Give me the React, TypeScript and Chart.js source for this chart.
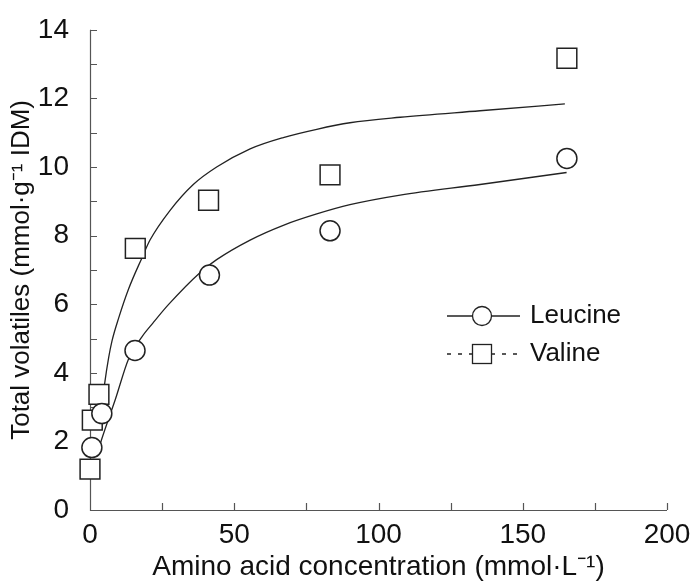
import React, { useEffect, useRef } from 'react';
import { Chart, registerables } from 'chart.js';

Chart.register(...registerables);

const leucineX = [0.65, 4.1, 15.6, 41.4, 83.2, 165.3];
const leucineY = [1.82, 2.81, 4.65, 6.85, 8.14, 10.25];
const valineX = [0, 0.8, 3.1, 15.7, 41.1, 83.2, 165.3];
const valineY = [1.19, 2.62, 3.37, 7.63, 9.03, 9.77, 13.17];

// Fitted curves
const leucineFitX = [2.6, 4.16, 8.77, 13.4, 18, 21.8, 27.1, 38.1, 43.9, 55.5, 67, 78.6, 90.1, 107.5, 135.2, 165.2];
const leucineFitY = [1.65, 2.09, 3.22, 4.41, 5.05, 5.45, 5.98, 6.92, 7.3, 7.87, 8.3, 8.63, 8.9, 9.18, 9.49, 9.84];
const valineFitX = [1.8, 4.16, 5.1, 6.48, 7.63, 9.95, 13.4, 18, 20.8, 27.7, 35.8, 43.9, 55.5, 67, 78.6, 90.1, 107.5, 135.2, 164.6];
const valineFitY = [2.35, 3.05, 3.7, 4.45, 4.93, 5.6, 6.45, 7.35, 7.87, 8.73, 9.49, 10.0, 10.53, 10.86, 11.1, 11.29, 11.45, 11.64, 11.84];

const xMajorTicks = [0, 50, 100, 150, 200];
const yMajorTicks = [0, 2, 4, 6, 8, 10, 12, 14];
const seriesNames = ['Leucine', 'Valine'];

const FONT = '"Liberation Sans", Arial, Helvetica, sans-serif';
const INK = '#222';

const zip = (xs: number[], ys: number[]) => xs.map((x, i) => ({ x, y: ys[i] }));

const axesPlugin = {
  id: 'inwardAxes',
  beforeDatasetsDraw(chart: any) {
    const { ctx, chartArea, scales } = chart;
    const { left, right, top, bottom } = chartArea;
    const xs = scales.x;
    const ys = scales.y;
    ctx.save();
    ctx.strokeStyle = '#555';
    ctx.lineWidth = 1.2;
    ctx.beginPath();
    ctx.moveTo(left + 0.5, top);
    ctx.lineTo(left + 0.5, bottom + 0.5);
    ctx.lineTo(right, bottom + 0.5);
    ys.ticks.forEach((t: any) => {
      const py = Math.round(ys.getPixelForValue(t.value)) + 0.5;
      ctx.moveTo(left, py);
      ctx.lineTo(left + 7, py);
    });
    xs.ticks.forEach((t: any) => {
      const px = Math.round(xs.getPixelForValue(t.value)) + 0.5;
      ctx.moveTo(px, bottom);
      ctx.lineTo(px, bottom - 7);
    });
    ctx.stroke();
    ctx.restore();
  },
};

const legendPlugin = {
  id: 'customLegend',
  afterDraw(chart: any) {
    const { ctx } = chart;
    ctx.save();
    const x0 = 447;
    const x1 = 520;
    const cx = 482;
    const rows = [316, 354];
    ctx.strokeStyle = INK;
    ctx.lineWidth = 1.3;
    // Leucine: solid line + circle
    ctx.beginPath();
    ctx.moveTo(x0, rows[0]);
    ctx.lineTo(x1, rows[0]);
    ctx.stroke();
    ctx.beginPath();
    ctx.fillStyle = '#fff';
    ctx.arc(cx, rows[0], 9.5, 0, Math.PI * 2);
    ctx.fill();
    ctx.stroke();
    // Valine: dashed line + square
    ctx.setLineDash([4, 7]);
    ctx.beginPath();
    ctx.moveTo(x0, rows[1]);
    ctx.lineTo(x1, rows[1]);
    ctx.stroke();
    ctx.setLineDash([]);
    ctx.fillStyle = '#fff';
    ctx.fillRect(cx - 9.5, rows[1] - 9.5, 19, 19);
    ctx.strokeRect(cx - 9.5, rows[1] - 9.5, 19, 19);
    ctx.fillStyle = '#111';
    ctx.font = `26px ${FONT}`;
    ctx.textBaseline = 'middle';
    ctx.textAlign = 'left';
    ctx.fillText(seriesNames[0], 530, rows[0]);
    ctx.fillText(seriesNames[1], 530, rows[1]);
    ctx.restore();
  },
};

export default function App() {
  const ref = useRef<HTMLCanvasElement | null>(null);
  useEffect(() => {
    if (!ref.current) return;
    const chart = new Chart(ref.current, {
      type: 'scatter',
      data: {
        datasets: [
          {
            type: 'line',
            label: 'Leucine fit',
            data: zip(leucineFitX, leucineFitY),
            borderColor: INK,
            borderWidth: 1.3,
            pointRadius: 0,
            cubicInterpolationMode: 'monotone',
            fill: false,
            order: 3,
          } as any,
          {
            type: 'line',
            label: 'Valine fit',
            data: zip(valineFitX, valineFitY),
            borderColor: INK,
            borderWidth: 1.3,
            pointRadius: 0,
            cubicInterpolationMode: 'monotone',
            fill: false,
            order: 3,
          } as any,
          {
            label: seriesNames[1],
            data: zip(valineX, valineY),
            pointStyle: 'rect',
            pointRadius: 14,
            borderColor: INK,
            borderWidth: 1.5,
            backgroundColor: '#fff',
            order: 2,
          },
          {
            label: seriesNames[0],
            data: zip(leucineX, leucineY),
            pointStyle: 'circle',
            pointRadius: 10,
            borderColor: INK,
            borderWidth: 1.5,
            backgroundColor: '#fff',
            order: 1,
          },
        ],
      },
      options: {
        animation: false,
        responsive: false,
        clip: false as any,
        layout: { padding: { top: 18, right: 28, left: 0, bottom: 0 } },
        plugins: { legend: { display: false }, tooltip: { enabled: false } },
        scales: {
          x: {
            type: 'linear',
            min: 0,
            max: 200,
            grid: { display: false },
            border: { display: false },
            ticks: {
              stepSize: 25,
              padding: 0,
              color: '#111',
              font: { family: FONT, size: 28 },
              maxRotation: 0,
              autoSkip: false,
              callback: (v: any) => (xMajorTicks.includes(Number(v)) ? String(v) : ''),
            },
            title: {
              display: true,
              text: 'Amino acid concentration (mmol·L⁻¹)',
              color: '#111',
              font: { family: FONT, size: 28 },
              padding: { top: 0, bottom: 3 },
            },
            afterFit: (s: any) => {
              s.height = 77;
            },
          },
          y: {
            type: 'linear',
            min: 0,
            max: 14,
            grid: { display: false },
            border: { display: false },
            ticks: {
              stepSize: 1,
              padding: 13,
              color: '#111',
              font: { family: FONT, size: 28 },
              autoSkip: false,
              callback: (v: any) => (yMajorTicks.includes(Number(v)) ? String(v) : ''),
            },
            title: {
              display: true,
              text: 'Total volatiles (mmol·g⁻¹ IDM)',
              color: '#111',
              font: { family: FONT, size: 26 },
              padding: { top: 6, bottom: 0 },
            },
            afterFit: (s: any) => {
              s.width = 90;
            },
          },
        },
      },
      plugins: [axesPlugin, legendPlugin],
    } as any);
    return () => chart.destroy();
  }, []);
  return (
    <div style={{ position: 'fixed', left: 0, top: 0, width: 695, height: 587, background: '#fff' }}>
      <canvas ref={ref} width={695} height={587} />
    </div>
  );
}
